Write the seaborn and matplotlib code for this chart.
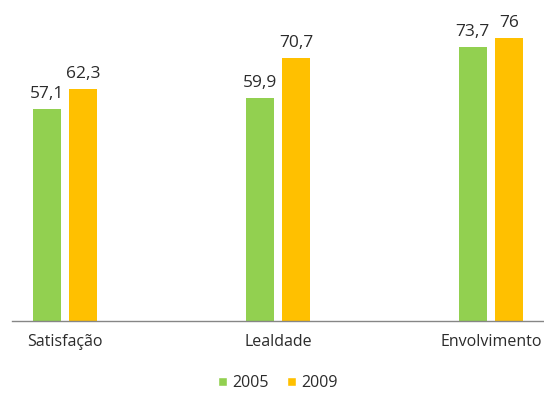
import matplotlib
matplotlib.use("Agg")
import matplotlib.pyplot as plt
import seaborn as sns
import pandas as pd
from matplotlib.patches import Patch

categories = ["Satisfação", "Lealdade", "Envolvimento"]
series_names = ["2005", "2009"]
values_2005 = [57.1, 59.9, 73.7]
values_2009 = [62.3, 70.7, 76.0]
colors = ["#92D050", "#FFC000"]

df = pd.DataFrame({
    "cat": categories * 2,
    "year": [series_names[0]] * 3 + [series_names[1]] * 3,
    "val": values_2005 + values_2009,
})

sns.set_theme(style="white")
plt.rcParams["font.family"] = ["Open Sans", "DejaVu Sans"]
txt = "#2b2b2b"

fig = plt.figure(figsize=(5.44, 3.94), dpi=100)
ax = fig.add_axes([12 / 544, 73 / 394, 532 / 544, 297.6 / 394])

sns.barplot(data=df, x="cat", y="val", hue="year", order=categories,
            hue_order=series_names, palette=colors, width=0.34, gap=0.22,
            ax=ax, legend=False, saturation=1, linewidth=0)

for cont in ax.containers:
    labels = [("%g" % b.get_height()).replace(".", ",") for b in cont]
    ax.bar_label(cont, labels=labels, padding=5, fontsize=12.5, color=txt)

ax.set_xlim(-0.25, 2.25)
ax.set_ylim(0, 80)
ax.set_xlabel("")
ax.set_ylabel("")
ax.set_yticks([])
ax.tick_params(axis="x", labelsize=11.5, colors=txt, length=0, pad=9)
for s in ["top", "right", "left"]:
    ax.spines[s].set_visible(False)
ax.spines["bottom"].set_color("#868686")
ax.spines["bottom"].set_linewidth(1)

handles = [Patch(facecolor=c, label=n) for c, n in zip(colors, series_names)]
fig.legend(handles=handles, loc="center", bbox_to_anchor=(278 / 544, 1 - 383 / 394),
           ncol=2, frameon=False, fontsize=11.5, handlelength=0.55, handleheight=0.55,
           handletextpad=0.35, columnspacing=1.1, labelcolor=txt)

fig.savefig("out.png", dpi=100)
